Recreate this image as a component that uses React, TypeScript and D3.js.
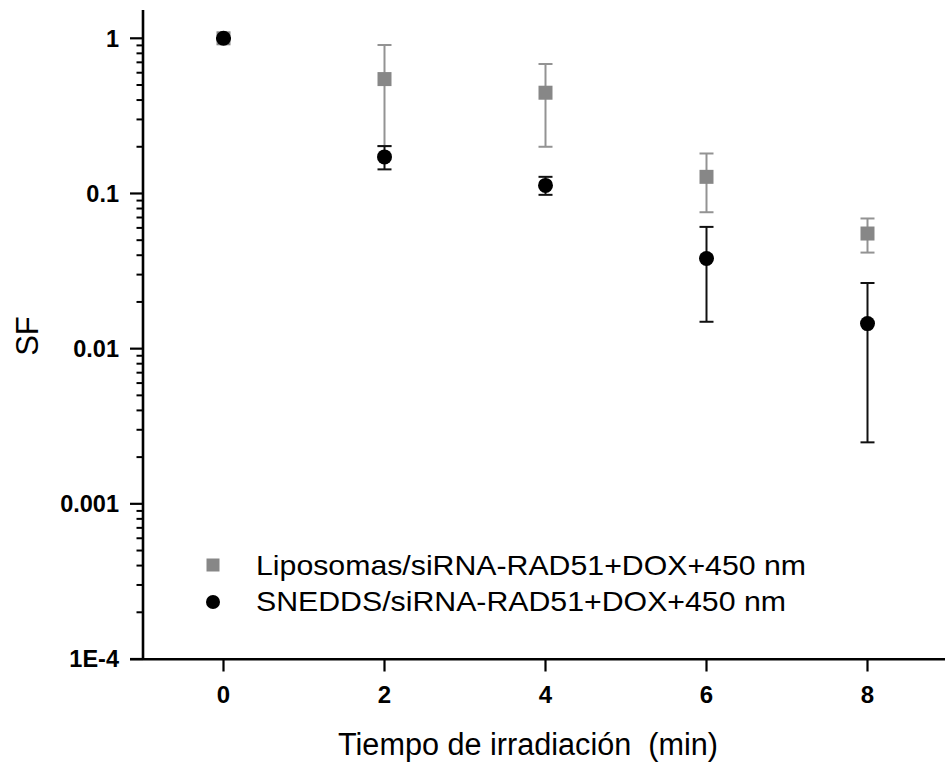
import React from "react";
import * as d3 from "d3";

const times = [0, 2, 4, 6, 8];

const lipoMean = [1, 0.546, 0.446, 0.128, 0.0552];
const lipoUpper = [1, 0.905, 0.683, 0.181, 0.069];
const lipoLower = [1, 0.202, 0.2, 0.0757, 0.0416];

const snedMean = [1, 0.172, 0.1127, 0.0381, 0.0145];
const snedUpper = [1, 0.202, 0.128, 0.0609, 0.0265];
const snedLower = [1, 0.143, 0.098, 0.0149, 0.00249];

const xTicks = [0, 2, 4, 6, 8];
const yTicks = [1, 0.1, 0.01, 0.001, 0.0001];
const yTickLabels = ["1", "0.1", "0.01", "0.001", "1E-4"];

const legendLabels = [
  "Liposomas/siRNA-RAD51+DOX+450 nm",
  "SNEDDS/siRNA-RAD51+DOX+450 nm",
];

const W = 945;
const H = 767;
const FONT = "'Liberation Sans', Arial, sans-serif";

export default function App() {
  const x = d3.scaleLinear().domain([-1, 9]).range([143, 948]);
  const y = d3.scaleLog().domain([0.0001, 1]).range([659, 38.3]);
  const yTop = 10;

  const minorTicks: number[] = [];
  for (let e = -4; e < 1; e++) {
    for (let m = 2; m <= 9; m++) {
      const v = m * Math.pow(10, e);
      if (y(v) >= yTop) minorTicks.push(v);
    }
  }

  const lipoColor = "#878787";
  const lipoBarColor = "#939393";

  const errBars = (
    mean: number[],
    up: number[],
    lo: number[],
    color: string,
    key: string
  ) =>
    times.map((t, i) => (
      <g key={key + i} stroke={color} strokeWidth={2}>
        <line x1={x(t)} x2={x(t)} y1={y(up[i])} y2={y(lo[i])} />
        <line x1={x(t) - 7} x2={x(t) + 7} y1={y(up[i])} y2={y(up[i])} />
        <line x1={x(t) - 7} x2={x(t) + 7} y1={y(lo[i])} y2={y(lo[i])} />
      </g>
    ));

  return (
    <svg
      width={W}
      height={H}
      style={{ position: "absolute", left: 0, top: 0, background: "#fff" }}
    >
      <rect x={0} y={0} width={W} height={H} fill="#fff" />

      {/* Lipo series */}
      {errBars(lipoMean, lipoUpper, lipoLower, lipoBarColor, "le")}
      {times.map((t, i) => (
        <rect
          key={"ls" + i}
          x={x(t) - 7}
          y={y(lipoMean[i]) - 7}
          width={14}
          height={14}
          fill={lipoColor}
        />
      ))}

      {/* SNEDDS series */}
      {errBars(snedMean, snedUpper, snedLower, "#111", "se")}
      {times.map((t, i) => (
        <circle key={"sc" + i} cx={x(t)} cy={y(snedMean[i])} r={7.5} fill="#000" />
      ))}

      {/* Y axis */}
      <line x1={143} x2={143} y1={yTop} y2={660} stroke="#000" strokeWidth={2.6} />
      {minorTicks.map((v, i) => (
        <line key={"mt" + i} x1={136.5} x2={143} y1={y(v)} y2={y(v)} stroke="#000" strokeWidth={2} />
      ))}
      {yTicks.map((v, i) => (
        <g key={"yt" + i}>
          <line x1={130} x2={143} y1={y(v)} y2={y(v)} stroke="#000" strokeWidth={2.2} />
          <text
            x={119}
            y={y(v)}
            dy="0.36em"
            textAnchor="end"
            fontFamily={FONT}
            fontWeight="bold"
            fontSize={23.5}
            fill="#000"
          >
            {yTickLabels[i]}
          </text>
        </g>
      ))}

      {/* X axis */}
      <line x1={130} x2={W} y1={659.3} y2={659.3} stroke="#000" strokeWidth={2.6} />
      {xTicks.map((t, i) => (
        <g key={"xt" + i}>
          <line x1={x(t)} x2={x(t)} y1={659} y2={671.5} stroke="#000" strokeWidth={2.2} />
          <text
            x={x(t)}
            y={703}
            textAnchor="middle"
            fontFamily={FONT}
            fontWeight="bold"
            fontSize={24}
            fill="#000"
          >
            {t}
          </text>
        </g>
      ))}

      {/* Axis titles */}
      <text
        x={528}
        y={755}
        textAnchor="middle"
        fontFamily={FONT}
        fontSize={31}
        fill="#000"
        textLength={380}
        lengthAdjust="spacingAndGlyphs"
        style={{ whiteSpace: "pre" }}
      >
        {"Tiempo de irradiación  (min)"}
      </text>
      <text
        transform="translate(38,336) rotate(-90)"
        textAnchor="middle"
        fontFamily={FONT}
        fontSize={31}
        fill="#000"
      >
        SF
      </text>

      {/* Legend */}
      <rect x={213 - 6.5} y={565 - 6.5} width={13} height={13} fill={lipoColor} />
      <circle cx={213} cy={602} r={7} fill="#000" />
      <text
        x={256}
        y={575}
        fontFamily={FONT}
        fontSize={28.5}
        fill="#000"
        textLength={550}
        lengthAdjust="spacingAndGlyphs"
      >
        {legendLabels[0]}
      </text>
      <text
        x={256}
        y={611}
        fontFamily={FONT}
        fontSize={28.5}
        fill="#000"
        textLength={530}
        lengthAdjust="spacingAndGlyphs"
      >
        {legendLabels[1]}
      </text>
    </svg>
  );
}
